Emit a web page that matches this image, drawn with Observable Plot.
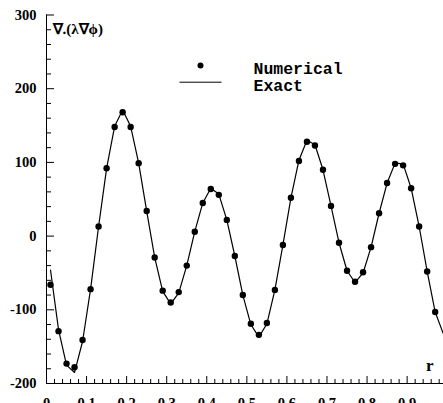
<!DOCTYPE html>
<html><head><meta charset="utf-8">
<script src="https://cdn.jsdelivr.net/npm/d3@7"></script>
<script src="https://cdn.jsdelivr.net/npm/@observablehq/plot@0.6"></script>
<style>body{margin:0;background:#fff} svg{display:block}</style>
</head><body><div id="chart"></div>
<script>
const rNumerical = [0.01,0.03,0.05,0.07,0.09,0.11,0.13,0.15,0.17,0.19,0.21,0.23,0.25,0.27,0.29,0.31,0.33,0.35,0.37,0.39,0.41,0.43,0.45,0.47,0.49,0.51,0.53,0.55,0.57,0.59,0.61,0.63,0.65,0.67,0.69,0.71,0.73,0.75,0.77,0.79,0.81,0.83,0.85,0.87,0.89,0.91,0.93,0.95,0.97];
const numerical = [-66,-129,-173,-178,-141,-72,13,92,148,168,148,99,34,-29,-74,-90,-76,-40,6,45,64,56,22,-27,-80,-119,-134,-118,-73,-12,52,102,128,123,90,41,-9,-47,-62,-49,-15,31,72,98,96,65,13,-48,-103];
const rExact = [0.01,0.03,0.05,0.07,0.09,0.11,0.13,0.15,0.17,0.19,0.21,0.23,0.25,0.27,0.29,0.31,0.33,0.35,0.37,0.39,0.41,0.43,0.45,0.47,0.49,0.51,0.53,0.55,0.57,0.59,0.61,0.63,0.65,0.67,0.69,0.71,0.73,0.75,0.77,0.79,0.81,0.83,0.85,0.87,0.89,0.91,0.93,0.95,0.97,0.99];
const exact = [-46,-127,-175,-185,-143,-72,13,92,149,171,149,99,34,-29,-75,-92,-77,-40,6,45,65,57,22,-27,-80,-120,-137,-119,-73,-12,52,103,130,124,90,41,-9,-47,-63,-50,-15,31,72,99,98,65,13,-48,-103,-132];
const xTicks = [0,0.1,0.2,0.3,0.4,0.5,0.6,0.7,0.8,0.9];
const xTickLabels = ["0","0.1","0.2","0.3","0.4","0.5","0.6","0.7","0.8","0.9"];
const xMinor = [0.02,0.04,0.06,0.08,0.12,0.14,0.16,0.18,0.22,0.24,0.26,0.28,0.32,0.34,0.36,0.38,0.42,0.44,0.46,0.48,0.52,0.54,0.56,0.58,0.62,0.64,0.66,0.68,0.72,0.74,0.76,0.78,0.82,0.84,0.86,0.88,0.92,0.94,0.96,0.98];
const yTicks = [-200,-100,0,100,200,300];
const yTickLabels = ["-200","-100","0","100","200","300"];
const yMinor = [-180,-160,-140,-120,-80,-60,-40,-20,20,40,60,80,120,140,160,180,220,240,260,280];
const yTitle = "∇.(λ∇ϕ)";
const xTitle = "r";
const legendLabels = ["Numerical", "Exact"];

const numData = rNumerical.map((r, i) => ({r, v: numerical[i]}));
const exactData = rExact.map((r, i) => ({r, v: exact[i]}));

const W = 443, H = 403, ML = 46, MR = 0, MT = 14.5, MB = 20;
const FW = W - ML - MR, FH = H - MT - MB;
const SERIF = "Liberation Serif";
const MONO = "Liberation Mono";
const lineSymbol = {draw(ctx) { ctx.moveTo(-21, 0); ctx.lineTo(21, 0); }};

const chart = Plot.plot({
  width: W, height: H,
  marginLeft: ML, marginRight: MR, marginTop: MT, marginBottom: MB,
  style: {fontFamily: SERIF, fontSize: "14px", fontWeight: "bold", color: "black", background: "white"},
  x: {domain: [0, FW / 400.7]},
  y: {domain: [-200, 300]},
  marks: [
    Plot.ruleX([0], {stroke: "black", strokeWidth: 1}),
    Plot.ruleY([-200], {stroke: "black", strokeWidth: 1}),
    Plot.tickY(yTicks, {y: d => d, insetRight: FW - 8, stroke: "black"}),
    Plot.tickY(yMinor, {y: d => d, insetRight: FW - 5, stroke: "black"}),
    Plot.tickX(xTicks, {x: d => d, insetTop: FH - 7, stroke: "black"}),
    Plot.tickX(xMinor, {x: d => d, insetTop: FH - 4, stroke: "black"}),
    Plot.axisY(yTicks, {tickSize: 0, tickPadding: 10, tickFormat: (d, i) => yTickLabels[i], label: null, fill: "black", fontFamily: SERIF, fontSize: 14.5, fontWeight: "bold"}),
    Plot.axisX(xTicks, {tickSize: 0, tickPadding: 14, tickFormat: (d, i) => xTickLabels[i], label: null, fill: "black", fontFamily: SERIF, fontSize: 14.5, fontWeight: "bold"}),
    Plot.line(exactData, {x: "r", y: "v", stroke: "black", strokeWidth: 1.2}),
    Plot.dot(numData, {x: "r", y: "v", r: 3.2, fill: "black"}),
    Plot.text([yTitle], {x: null, y: null, text: d => d, frameAnchor: "top-left", dx: 6, dy: 8, textAnchor: "start", fontFamily: SERIF, fontSize: 15, fontWeight: "bold", fill: "black"}),
    Plot.text([xTitle], {x: null, y: null, text: d => d, frameAnchor: "bottom-right", dx: -10, dy: -13, textAnchor: "end", fontFamily: SERIF, fontSize: 17, fontWeight: "bold", fill: "black"}),
    Plot.dot([legendLabels[0]], {x: null, y: null, frameAnchor: "top-left", dx: 154, dy: 50.5, r: 3, fill: "black"}),
    Plot.dot([legendLabels[1]], {x: null, y: null, frameAnchor: "top-left", dx: 154, dy: 67.2, symbol: lineSymbol, stroke: "black", fill: "none", strokeWidth: 1}),
    Plot.text([legendLabels[0]], {x: null, y: null, text: d => d, frameAnchor: "top-left", dx: 207, dy: 47, textAnchor: "start", fontFamily: MONO, fontSize: 16.5, fontWeight: "bold", fill: "black"}),
    Plot.text([legendLabels[1]], {x: null, y: null, text: d => d, frameAnchor: "top-left", dx: 207, dy: 64, textAnchor: "start", fontFamily: MONO, fontSize: 16.5, fontWeight: "bold", fill: "black"})
  ]
});
document.getElementById("chart").appendChild(chart);
</script>
</body></html>
